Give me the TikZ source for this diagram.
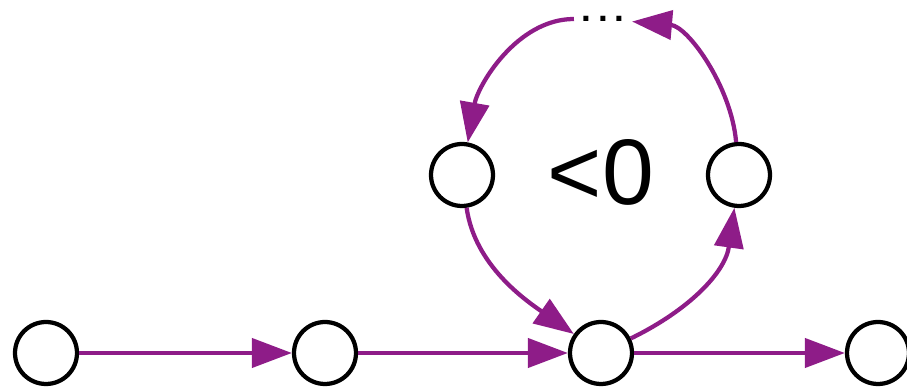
\documentclass[tikz,border=0pt]{standalone}
\usepackage{fontspec}
\setmainfont{Liberation Sans}
\usetikzlibrary{arrows.meta}
\definecolor{arcpurple}{RGB}{142,28,136}
\tikzset{
  vtx/.style={circle, draw=black, line width=0.085cm, fill=white, minimum size=1.24cm, inner sep=0pt},
  conn/.style={draw=arcpurple, line width=0.085cm, -{Triangle[length=0.8cm, width=0.58cm]}},
}
\begin{document}
\begin{tikzpicture}[x=0.02cm, y=0.02cm]
\useasboundingbox (0,0) rectangle (907,388);
\node[vtx] (a) at (46,35) {};
\node[vtx] (b) at (325,35) {};
\node[vtx] (c) at (601,35) {};
\node[vtx] (d) at (878,35) {};
\node[vtx] (l) at (462,213) {};
\node[vtx] (r) at (739,213) {};
\node[inner sep=4pt, font=\fontsize{20}{20}\selectfont\bfseries] (dots) at (603,369) {.\hspace{4pt}.\hspace{4pt}.};
\node[font=\fontsize{53}{53}\selectfont] (lbl) at (601,216) {<0};
\draw[conn] (a) -- (b);
\draw[conn] (b) -- (c);
\draw[conn] (c) -- (d);
\draw[conn] (c) to[out=26, in=-98, looseness=1] (r);
\draw[conn] (r) to[out=95, in=-5, looseness=0.9] (dots);
\draw[conn] (dots) to[out=180, in=80, looseness=0.9] (l);
\draw[conn] (l) to[out=-82, in=145, looseness=0.9] (c);
\end{tikzpicture}
\end{document}
